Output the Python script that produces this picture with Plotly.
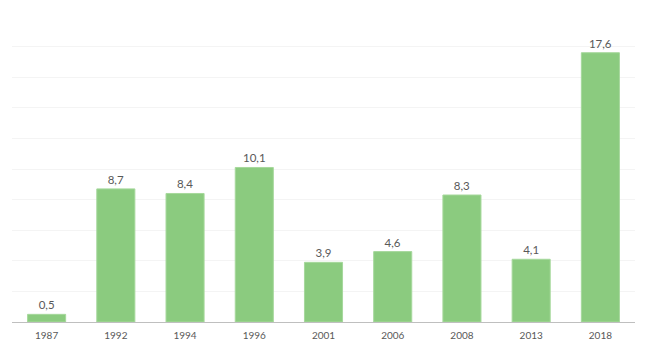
import plotly.graph_objects as go

years = ["1987", "1992", "1994", "1996", "2001", "2006", "2008", "2013", "2018"]
values = [0.5, 8.7, 8.4, 10.1, 3.9, 4.6, 8.3, 4.1, 17.6]

bar_color = "#8BCB7F"
text_color = "#595959"

fig = go.Figure(
    go.Bar(
        x=years,
        y=values,
        marker=dict(color=bar_color, line=dict(color="#A6D89C", width=1)),
        width=0.55,
        texttemplate="%{y:.1f}",
        textposition="outside",
        textfont=dict(family="Lato, Open Sans, sans-serif", size=11.5, color=text_color),
        cliponaxis=False,
    )
)

fig.update_layout(
    width=651,
    height=354,
    margin=dict(l=12, r=16, t=16, b=31.5),
    paper_bgcolor="white",
    plot_bgcolor="white",
    separators=", ",
    showlegend=False,
    bargap=0.45,
    font=dict(family="Lato, Open Sans, sans-serif", size=10, color=text_color),
)
fig.update_xaxes(
    type="category",
    showline=True,
    linecolor="#BFBFBF",
    linewidth=1,
    ticks="",
    ticklabelstandoff=4,
    tickfont=dict(size=10, color=text_color),
    showgrid=False,
)
fig.update_yaxes(
    range=[0, 20],
    dtick=2,
    showgrid=True,
    gridcolor="#F4F4F4",
    gridwidth=1,
    showticklabels=False,
    zeroline=False,
    ticks="",
)

fig.write_html("out.html")
